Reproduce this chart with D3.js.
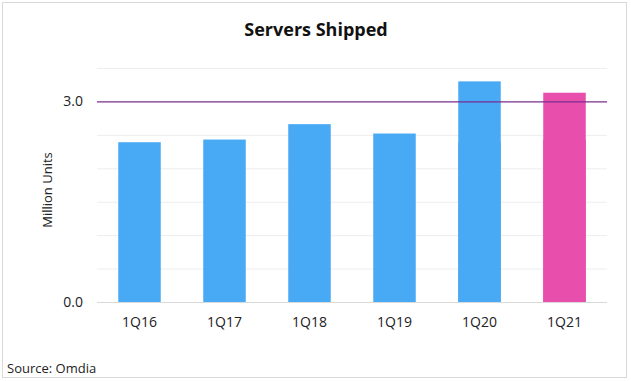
<!DOCTYPE html>
<html><head><meta charset="utf-8">
<script src="https://cdn.jsdelivr.net/npm/d3@7"></script>
<style>body{margin:0;background:#fff}svg{display:block}</style>
</head><body>
<script>
const categories = ["1Q16","1Q17","1Q18","1Q19","1Q20","1Q21"];
const values = [2.39, 2.43, 2.66, 2.52, 3.30, 3.13];
const highlight = ["1Q21"];
const tickLabels = [0.0, 3.0];
const gridValues = [0.5, 1.0, 1.5, 2.0, 2.5, 3.5];
const referenceValue = 3.0;

const W = 631, H = 381;
const svg = d3.select("body").append("svg").attr("width", W).attr("height", H);
const font = "'Liberation Sans Narrow','Open Sans',sans-serif";

svg.append("rect").attr("x",2.5).attr("y",2.5).attr("width",624).attr("height",375)
  .attr("fill","#fff").attr("stroke","#d9d9d9");

const m = {left:97, right:607, top:68, bottom:302};
const x = d3.scaleBand().domain(categories).range([m.left, m.right]).paddingInner(0.5).paddingOuter(0.25);
const y = d3.scaleLinear().domain([0, 3.5]).range([m.bottom, m.top]);

svg.append("g").selectAll("line").data(gridValues).join("line")
  .attr("x1", m.left).attr("x2", m.right)
  .attr("y1", d=>y(d)+0.5).attr("y2", d=>y(d)+0.5)
  .attr("stroke","#ededed").attr("stroke-width",1);

svg.append("g").selectAll("rect").data(categories).join("rect")
  .attr("x", d=>x(d)).attr("width", x.bandwidth())
  .attr("y", (d,i)=>y(values[i])).attr("height", (d,i)=>y(0)-y(values[i]))
  .attr("fill", d=>highlight.includes(d) ? "#e84fad" : "#48a9f5");

// reference line at 3.0 (drawn behind? appears over gaps only)
svg.append("line").attr("x1", m.left).attr("x2", m.right)
  .attr("y1", y(referenceValue)+0.5).attr("y2", y(referenceValue)+0.5)
  .attr("stroke","#7a2c8f").attr("stroke-width",1.3);
// redraw bars above the line so it looks behind
svg.append("g").selectAll("rect").data(categories).join("rect")
  .filter((d,i)=>values[i] > referenceValue)
  .attr("x", d=>x(d)).attr("width", x.bandwidth())
  .attr("y", (d,i)=>y(values[i])).attr("height", (d,i)=>y(0)-y(values[i]))
  .attr("fill", d=>highlight.includes(d) ? "#e84fad" : "#48a9f5");

// x axis baseline
svg.append("line").attr("x1", m.left).attr("x2", m.right)
  .attr("y1", y(0)+0.5).attr("y2", y(0)+0.5).attr("stroke","#d9d9d9");

const xAxis = svg.append("g").attr("transform",`translate(0,${y(0)})`)
  .call(d3.axisBottom(x).tickSize(0).tickPadding(15));
xAxis.select(".domain").remove();
xAxis.selectAll("text").attr("font-family",font).attr("font-size",14).attr("fill","#222");

const yAxis = svg.append("g").attr("transform",`translate(${m.left},0)`)
  .call(d3.axisLeft(y).tickValues(tickLabels).tickFormat(d3.format(".1f")).tickSize(0).tickPadding(14));
yAxis.select(".domain").remove();
yAxis.selectAll("text").attr("font-family",font).attr("font-size",14).attr("fill","#222");

svg.append("text").attr("transform","translate(52,190) rotate(-90)")
  .attr("text-anchor","middle").attr("font-family",font).attr("font-size",13).attr("fill","#222")
  .text("Million Units");

svg.append("text").attr("x",316).attr("y",36).attr("text-anchor","middle")
  .attr("font-family",font).attr("font-weight","bold").attr("font-size",18).attr("fill","#111")
  .text("Servers Shipped");

svg.append("text").attr("x",7).attr("y",373)
  .attr("font-family",font).attr("font-size",13).attr("fill","#222")
  .text("Source: Omdia");
</script>
</body></html>
